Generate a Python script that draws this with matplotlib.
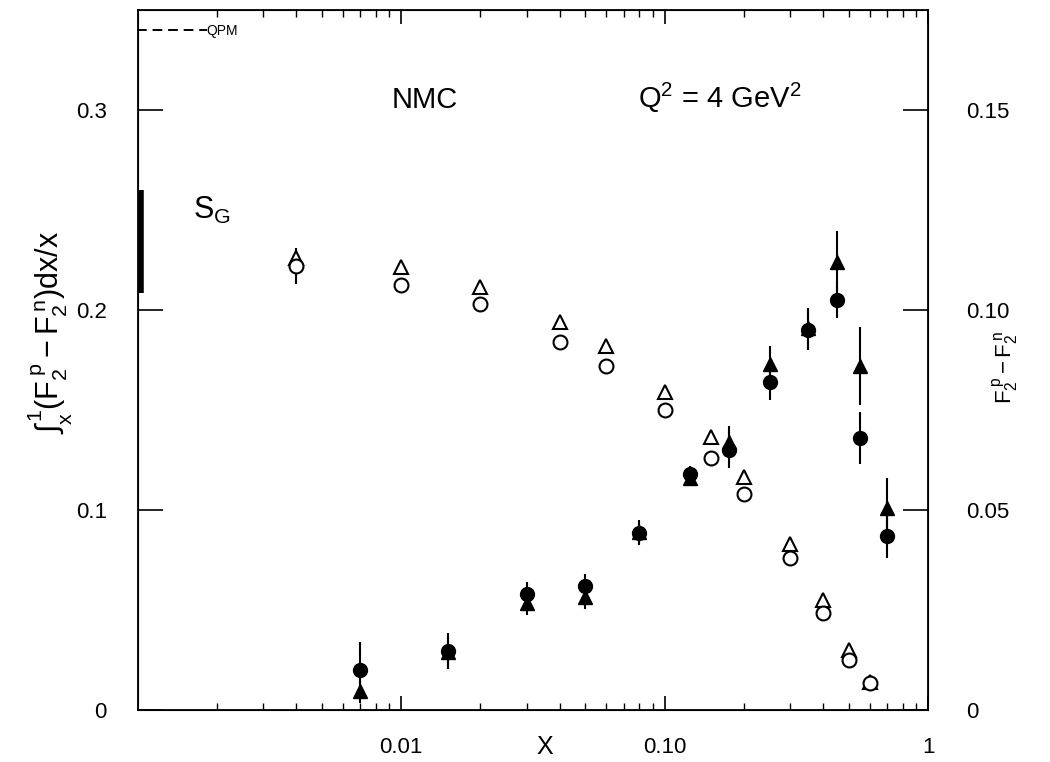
import numpy as np
import matplotlib
matplotlib.use("Agg")
from matplotlib import pyplot as plt
from matplotlib.ticker import FixedLocator, FixedFormatter, LogLocator, NullFormatter

plt.rcParams['font.family'] = ['Liberation Sans', 'DejaVu Sans']
plt.rcParams['mathtext.fontset'] = 'custom'
plt.rcParams['mathtext.rm'] = 'Liberation Sans'
plt.rcParams['mathtext.it'] = 'Liberation Sans'
plt.rcParams['mathtext.bf'] = 'Liberation Sans:bold'

# integral of (F2p - F2n)/x from x to 1 (left axis)
x_int = [0.004, 0.01, 0.02, 0.04, 0.06, 0.10, 0.15, 0.20, 0.30, 0.40, 0.50, 0.60]
int_circ = [0.222, 0.2125, 0.203, 0.184, 0.172, 0.150, 0.126, 0.108, 0.076, 0.0485, 0.025, 0.0135]
int_circ_err = [0.009, 0, 0, 0, 0, 0, 0, 0, 0, 0, 0, 0]
int_tri = [0.226, 0.2215, 0.2115, 0.194, 0.182, 0.159, 0.1365, 0.1167, 0.083, 0.055, 0.030, 0.014]

# F2p - F2n (right axis)
x_f2 = [0.007, 0.015, 0.03, 0.05, 0.08, 0.125, 0.175, 0.25, 0.35, 0.45, 0.55, 0.70]
f2_circ = [0.010, 0.0148, 0.029, 0.031, 0.0443, 0.059, 0.065, 0.082, 0.095, 0.1025, 0.068, 0.0435]
f2_circ_err = [0.007, 0.0045, 0.003, 0.003, 0.003, 0.002, 0.0045, 0.0045, 0.005, 0.0045, 0.0065, 0.0055]
f2_tri = [0.00475, 0.0145, 0.0267, 0.0283, 0.0445, 0.058, 0.067, 0.0865, 0.0955, 0.112, 0.086, 0.0505]
f2_tri_err = [0.003, 0.004, 0.003, 0.003, 0.003, 0.002, 0.004, 0.0045, 0.005, 0.0078, 0.0097, 0.0075]

sg_x = 0.00103
sg_range = [0.2085, 0.26]

x_ticks = [0.01, 0.1, 1]
x_ticklabels = ['0.01', '0.10', '1']
left_ticks = [0, 0.1, 0.2, 0.3]
left_ticklabels = ['0', '0.1', '0.2', '0.3']
right_ticks = [0, 0.05, 0.10, 0.15]
right_ticklabels = ['0', '0.05', '0.10', '0.15']

fig = plt.figure(figsize=(10.5, 7.62), dpi=100)
ax = fig.add_axes([0.131, 0.068, 0.753, 0.919])
ax2 = ax.twinx()

ax.set_xscale('log')
ax.set_xlim(0.001, 1)
ax.set_ylim(0, 0.35)
ax2.set_ylim(0, 0.175)

ms = 10
ax.errorbar(x_int, int_circ, yerr=int_circ_err, fmt='o', ms=ms, mfc='white', mec='black',
            mew=1.5, ecolor='black', elinewidth=1.5, capsize=0, zorder=3)
ax.plot(x_int, int_tri, '^', ms=ms, mfc='white', mec='black', mew=1.5, zorder=3)

ax2.errorbar(x_f2, f2_tri, yerr=f2_tri_err, fmt='^', ms=ms, color='black',
             elinewidth=1.5, capsize=0, zorder=3)
ax2.errorbar(x_f2, f2_circ, yerr=f2_circ_err, fmt='o', ms=ms, color='black',
             elinewidth=1.5, capsize=0, zorder=4)

# S_G band on the left edge
ax.plot([sg_x, sg_x], sg_range, color='black', lw=4, solid_capstyle='butt', clip_on=False)
ax.text(0.07, 0.714, r'$S_G$', transform=ax.transAxes, fontsize=22, va='center', ha='left')

# QPM key
qpm, = ax.plot([], [], ls='--', color='black', lw=1.4, dashes=(5, 3))
ax.legend([qpm], ['QPM'], loc='upper left', bbox_to_anchor=(-0.004, 0.984), fontsize=10,
          frameon=False, handlelength=5.0, handletextpad=0.0, borderaxespad=0.0, borderpad=0.2)

ax.text(0.363, 0.871, 'NMC', transform=ax.transAxes, fontsize=21, ha='center', va='center')
ax.text(0.633, 0.874, r'Q$^2$ = 4 GeV$^2$', transform=ax.transAxes, fontsize=21,
        ha='left', va='center')

# axes styling
ax.xaxis.set_major_locator(FixedLocator(x_ticks))
ax.xaxis.set_major_formatter(FixedFormatter(x_ticklabels))
ax.xaxis.set_minor_locator(LogLocator(base=10, subs=np.arange(2, 10)))
ax.xaxis.set_minor_formatter(NullFormatter())
ax.yaxis.set_major_locator(FixedLocator(left_ticks))
ax.yaxis.set_major_formatter(FixedFormatter(left_ticklabels))
ax2.yaxis.set_major_locator(FixedLocator(right_ticks))
ax2.yaxis.set_major_formatter(FixedFormatter(right_ticklabels))

ax.tick_params(axis='x', which='major', direction='in', top=True, length=10, width=1.2,
               labelsize=16, pad=19)
ax.tick_params(axis='x', which='minor', direction='in', top=True, length=5, width=1)
ax.tick_params(axis='y', which='major', direction='in', right=False, length=18, width=1.2,
               labelsize=16, pad=22)
ax2.tick_params(axis='y', which='major', direction='in', length=18, width=1.2,
                labelsize=16, pad=27)

for sp in ax.spines.values():
    sp.set_linewidth(1.3)

ax.set_xlabel('X', fontsize=18, va='center')
ax.xaxis.set_label_coords(0.515, -0.053)
ax.set_ylabel(r'$\int_x^1(F_2^{\,p}-F_2^{\,n})dx/x$', fontsize=22, va='center')
ax.yaxis.set_label_coords(-0.11, 0.54)
ax2.set_ylabel(r'$F_2^{\,p}-F_2^{\,n}$', fontsize=16, va='center')
ax2.yaxis.set_label_coords(1.098, 0.49)

fig.savefig('out.png', dpi=100)
